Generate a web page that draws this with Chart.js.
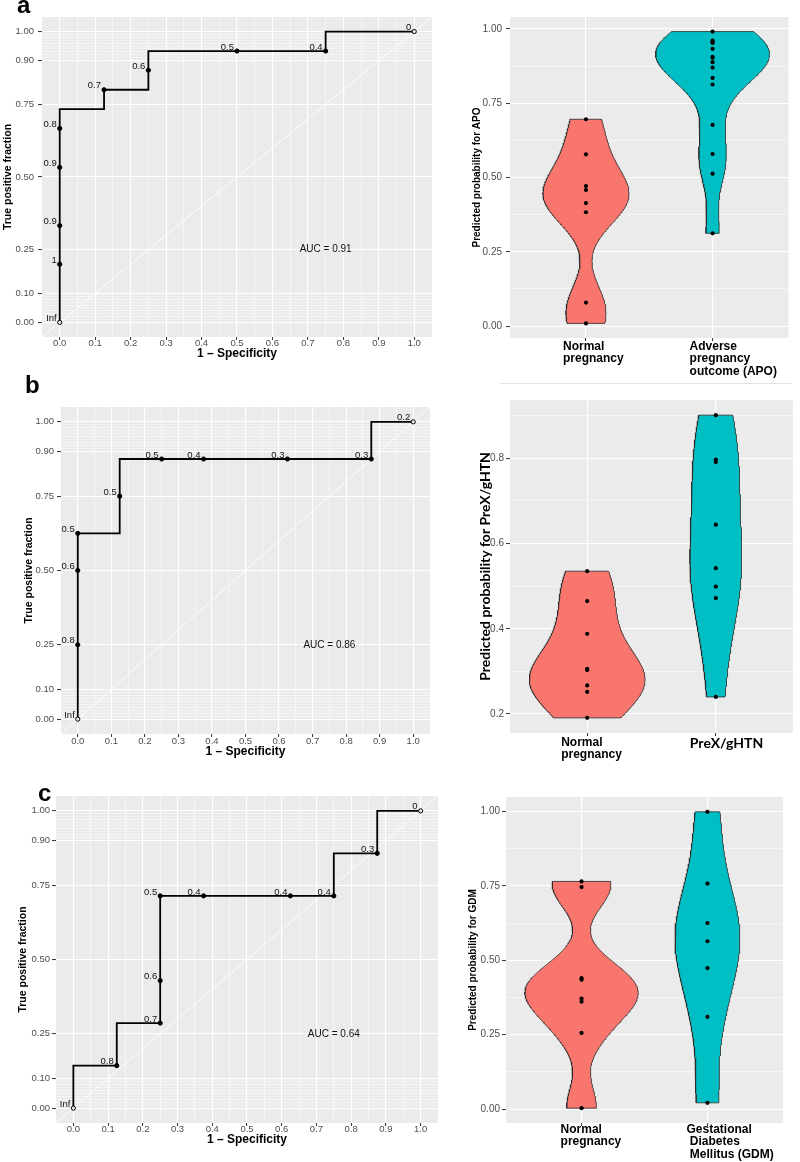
<!DOCTYPE html>
<html>
<head>
<meta charset="utf-8">
<script src="https://cdn.jsdelivr.net/npm/chart.js@4.4.1/dist/chart.umd.min.js"></script>
<style>
  body { margin: 0; background: #fff; }
  #fig { position: relative; width: 800px; height: 1162px; overflow: hidden; background: #fff;
         font-family: 'Liberation Sans', Arial, Helvetica, sans-serif; }
  #fig canvas { position: absolute; }
  .plab { position: absolute; font-weight: bold; font-size: 24px; line-height: 24px; color: #000; }
  .sep { position: absolute; height: 1px; background: #e2e2e2; }
</style>
</head>
<body>
<div id="fig"></div>
<script>
// ===================== DATA =====================
// ROC curves: corners of the empirical curve (1 - specificity, true positive fraction)
const rocA_fpr = [0, 0, 0.125, 0.125, 0.25, 0.25, 0.75, 0.75, 1];
const rocA_tpr = [0, 0.733, 0.733, 0.8, 0.8, 0.933, 0.933, 1, 1];
const cutA_fpr = [0, 0, 0, 0, 0, 0.125, 0.25, 0.5, 0.75, 1];
const cutA_tpr = [0, 0.2, 0.333, 0.533, 0.667, 0.8, 0.867, 0.933, 0.933, 1];
const cutA_lab = ['Inf', '1', '0.9', '0.9', '0.8', '0.7', '0.6', '0.5', '0.4', '0'];
const aucA = 'AUC = 0.91';

const rocB_fpr = [0, 0, 0.125, 0.125, 0.875, 0.875, 1];
const rocB_tpr = [0, 0.625, 0.625, 0.875, 0.875, 1, 1];
const cutB_fpr = [0, 0, 0, 0, 0.125, 0.25, 0.375, 0.625, 0.875, 1];
const cutB_tpr = [0, 0.25, 0.5, 0.625, 0.75, 0.875, 0.875, 0.875, 0.875, 1];
const cutB_lab = ['Inf', '0.8', '0.6', '0.5', '0.5', '0.5', '0.4', '0.3', '0.3', '0.2'];
const aucB = 'AUC = 0.86';

const rocC_fpr = [0, 0, 0.125, 0.125, 0.25, 0.25, 0.75, 0.75, 0.875, 0.875, 1];
const rocC_tpr = [0, 0.143, 0.143, 0.286, 0.286, 0.714, 0.714, 0.857, 0.857, 1, 1];
const cutC_fpr = [0, 0.125, 0.25, 0.25, 0.25, 0.375, 0.625, 0.75, 0.875, 1];
const cutC_tpr = [0, 0.143, 0.286, 0.429, 0.714, 0.714, 0.714, 0.714, 0.857, 1];
const cutC_lab = ['Inf', '0.8', '0.7', '0.6', '0.5', '0.4', '0.4', '0.4', '0.3', '0'];
const aucC = 'AUC = 0.64';

const rocXTicks = [0, 0.1, 0.2, 0.3, 0.4, 0.5, 0.6, 0.7, 0.8, 0.9, 1.0];
const rocYTicks = [0, 0.1, 0.25, 0.5, 0.75, 0.9, 1];

// Violin plots: predicted probabilities per subject
const vioA_normal = [0.696, 0.578, 0.471, 0.458, 0.414, 0.383, 0.079, 0.009];
const vioA_apo    = [0.991, 0.961, 0.957, 0.953, 0.933, 0.906, 0.903, 0.888, 0.870, 0.835, 0.813, 0.677, 0.579, 0.513, 0.312];
const vioB_normal = [0.535, 0.465, 0.388, 0.306, 0.303, 0.267, 0.252, 0.191];
const vioB_prex   = [0.901, 0.797, 0.791, 0.644, 0.542, 0.499, 0.472, 0.240];
const vioC_normal = [0.765, 0.746, 0.440, 0.435, 0.371, 0.361, 0.256, 0.003];
const vioC_gdm    = [0.999, 0.758, 0.625, 0.564, 0.474, 0.310, 0.021];

const catA = [['Normal', 'pregnancy'], ['Adverse', 'pregnancy', 'outcome (APO)']];
const catB = [['Normal', 'pregnancy'], ['PreX/gHTN']];
const catC = [['Normal', 'pregnancy'], ['Gestational', ' Diabetes', ' Mellitus (GDM)']];

const vioATicks = [0, 0.25, 0.5, 0.75, 1];
const vioBTicks = [0.2, 0.4, 0.6, 0.8];
const vioCTicks = [0, 0.25, 0.5, 0.75, 1];

// ===================== RENDERING =====================
const FONT = "'Liberation Sans', Arial, Helvetica, sans-serif";
const PANEL = '#EBEBEB';
const TICKC = '#4D4D4D';
const RED = '#F8766D', TEAL = '#00BFC4';
const fig = document.getElementById('fig');

function addCanvas(L, T, W, H) {
  const cv = document.createElement('canvas');
  cv.width = W; cv.height = H;
  cv.style.left = L + 'px'; cv.style.top = T + 'px';
  cv.style.width = W + 'px'; cv.style.height = H + 'px';
  fig.appendChild(cv);
  return cv;
}
function addDiv(cls, text, style) {
  const d = document.createElement('div');
  d.className = cls; d.textContent = text;
  Object.assign(d.style, style);
  fig.appendChild(d);
}
const near = (arr, v) => arr.some(m => Math.abs(m - v) < 1e-9);

const bgPlugin = {
  id: 'panelBg',
  beforeDraw(chart) {
    const { ctx, chartArea: a } = chart;
    ctx.save();
    ctx.fillStyle = PANEL;
    ctx.fillRect(a.left, a.top, a.right - a.left, a.bottom - a.top);
    ctx.restore();
  }
};

const rocLabelPlugin = {
  id: 'rocLabels',
  afterDatasetsDraw(chart, args, o) {
    const { ctx, scales: { x, y } } = chart;
    ctx.save();
    ctx.fillStyle = '#111';
    ctx.font = '9.5px ' + FONT;
    ctx.textAlign = 'right';
    ctx.textBaseline = 'middle';
    o.f.forEach((f, i) => {
      ctx.fillText(o.l[i], x.getPixelForValue(f) - 3, y.getPixelForValue(o.t[i]) - 4);
    });
    ctx.font = '10px ' + FONT;
    ctx.textAlign = 'center';
    ctx.fillText(o.auc, x.getPixelForValue(0.75), y.getPixelForValue(0.25));
    ctx.restore();
  }
};

function rocChart(c) {
  const g = c.g;
  const tickFs = 9.5, xtFs = 12, ytFs = 10.5;
  const L = 0, T = g.t - 14, R = g.r + 4;
  const B = Math.ceil(c.xTitleY + 0.6 * xtFs + 1);
  const cv = addCanvas(L, T, R - L, B - T);
  const yMinor = [];
  for (let i = 1; i < 10; i++) yMinor.push(i / 100, 0.9 + i / 100);
  const xMinor = [];
  for (let i = 0; i < rocXTicks.length - 1; i++) xMinor.push((rocXTicks[i] + rocXTicks[i + 1]) / 2);
  const n = c.cutF.length;
  new Chart(cv, {
    type: 'line',
    data: {
      datasets: [
        { data: c.cutF.map((f, i) => ({ x: f, y: c.cutT[i] })), showLine: false,
          pointRadius: 2.1, pointBorderWidth: 1, pointBorderColor: '#000',
          pointBackgroundColor: c.cutF.map((f, i) => (i === 0 || i === n - 1) ? PANEL : '#000'), order: 1 },
        { data: c.fpr.map((f, i) => ({ x: f, y: c.tpr[i] })), borderColor: '#000', borderWidth: 1.8,
          pointRadius: 0, fill: false, order: 2 },
        { data: [{ x: -0.05, y: -0.05 }, { x: 1.05, y: 1.05 }], borderColor: 'rgba(255,255,255,0.95)',
          borderWidth: 0.9, pointRadius: 0, fill: false, order: 3 }
      ]
    },
    options: {
      responsive: false, animation: false, devicePixelRatio: 1, events: [],
      layout: { padding: { left: 0, top: g.t - T, right: R - g.r, bottom: 0 } },
      plugins: {
        legend: { display: false }, tooltip: { enabled: false },
        rocLabels: { f: c.cutF, t: c.cutT, l: c.cutL, auc: c.auc }
      },
      scales: {
        x: {
          type: 'linear', min: -0.05, max: 1.05,
          afterBuildTicks: ax => { ax.ticks = [...rocXTicks, ...xMinor].map(v => ({ value: v })); },
          afterFit: ax => { ax.height = B - g.b; },
          border: { display: false },
          grid: {
            color: '#fff',
            lineWidth: ctx => (ctx.tick && near(rocXTicks, ctx.tick.value)) ? 1.1 : 0.5,
            tickLength: 3, tickWidth: 1,
            tickColor: ctx => (ctx.tick && near(rocXTicks, ctx.tick.value)) ? '#333' : 'rgba(0,0,0,0)'
          },
          ticks: {
            autoSkip: false, maxRotation: 0, minRotation: 0, color: TICKC,
            padding: c.xTickY - g.b - 3 - tickFs / 2,
            font: { family: FONT, size: tickFs, lineHeight: 1 },
            callback: v => near(rocXTicks, v) ? v.toFixed(1) : ''
          },
          title: { display: true, text: '1 – Specificity', color: '#000',
            font: { family: FONT, size: xtFs, weight: 'bold', lineHeight: 1.2 },
            padding: { top: 0, bottom: B - c.xTitleY - 0.6 * xtFs } }
        },
        y: {
          type: 'linear', min: -0.05, max: 1.05,
          afterBuildTicks: ax => { ax.ticks = [...rocYTicks, ...yMinor].map(v => ({ value: v })); },
          afterFit: ax => { ax.width = g.l - L; },
          border: { display: false },
          grid: {
            color: '#fff',
            lineWidth: ctx => (ctx.tick && near(rocYTicks, ctx.tick.value)) ? 1.1 : 0.5,
            tickLength: 4, tickWidth: 1,
            tickColor: ctx => (ctx.tick && near(rocYTicks, ctx.tick.value)) ? '#333' : 'rgba(0,0,0,0)'
          },
          ticks: {
            autoSkip: false, color: TICKC,
            padding: g.l - 4 - c.yTickRight,
            font: { family: FONT, size: tickFs, lineHeight: 1 },
            callback: v => near(rocYTicks, v) ? v.toFixed(2) : ''
          },
          title: { display: true, text: 'True positive fraction', color: '#000',
            font: { family: FONT, size: ytFs, weight: 'bold', lineHeight: 1.2 },
            padding: { top: c.yTitleX - L - 0.6 * ytFs, bottom: 0 } }
        }
      }
    },
    plugins: [bgPlugin, rocLabelPlugin]
  });
}

// kernel density helpers (ggplot2 geom_violin defaults: gaussian kernel, bw.nrd0, trim, scale = "area")
function q7(s, p) { const h = (s.length - 1) * p, lo = Math.floor(h); return s[lo] + (h - lo) * (s[Math.min(lo + 1, s.length - 1)] - s[lo]); }
function bwNrd0(v) {
  const n = v.length, m = v.reduce((a, b) => a + b, 0) / n;
  const sd = Math.sqrt(v.reduce((a, b) => a + (b - m) * (b - m), 0) / (n - 1));
  const s = [...v].sort((a, b) => a - b);
  let lo = Math.min(sd, (q7(s, 0.75) - q7(s, 0.25)) / 1.34);
  if (!(lo > 0)) lo = sd || Math.abs(s[0]) || 1;
  return 0.9 * lo * Math.pow(n, -0.2);
}
function kde(v, bw, y) {
  let s = 0;
  for (const x of v) { const z = (y - x) / bw; s += Math.exp(-0.5 * z * z); }
  return s / (v.length * bw * Math.sqrt(2 * Math.PI));
}

function violinChart(c) {
  const g = c.g, L = 440, T = c.T, R = 800, B = c.B;
  const cv = addCanvas(L, T, R - L, B - T);
  const all = c.groups.flatMap(gr => gr.vals);
  const lo = Math.min(...all), hi = Math.max(...all), ex = 0.05 * (hi - lo);
  const yMin = lo - ex, yMax = hi + ex;
  const dens = c.groups.map(gr => {
    const bw = bwNrd0(gr.vals), a = Math.min(...gr.vals), b = Math.max(...gr.vals);
    const ys = [];
    for (let i = 0; i <= 240; i++) ys.push(a + (b - a) * i / 240);
    return { ys, d: ys.map(y => kde(gr.vals, bw, y)) };
  });
  const maxD = Math.max(...dens.flatMap(o => o.d));
  const datasets = [];
  c.groups.forEach((gr, gi) => {
    datasets.push({ data: gr.vals.map(v => ({ x: gi + 1, y: v })), showLine: false, pointRadius: 2.1,
      pointBackgroundColor: '#000', pointBorderWidth: 0, order: 1 });
  });
  c.groups.forEach((gr, gi) => {
    const cx = gi + 1, { ys, d } = dens[gi];
    const right = ys.map((y, i) => ({ x: cx + 0.45 * d[i] / maxD, y }));
    const left = ys.map((y, i) => ({ x: cx - 0.45 * d[i] / maxD, y })).reverse();
    datasets.push({ data: [...right, ...left, right[0]], showLine: true, fill: 'shape',
      backgroundColor: gr.color, borderColor: '#2a2a2a', borderWidth: 0.8, pointRadius: 0, order: 2 });
  });
  const step = c.yTicks[1] - c.yTicks[0];
  const yMinor = [];
  for (let v = c.yTicks[0] - step / 2; v <= yMax + 1e-9; v += step) if (v >= yMin) yMinor.push(v);
  const tf = c.yTitleFont;
  new Chart(cv, {
    type: 'line',
    data: { datasets },
    options: {
      responsive: false, animation: false, devicePixelRatio: 1, events: [],
      layout: { padding: { left: 0, top: g.t - T, right: R - g.r, bottom: 0 } },
      plugins: { legend: { display: false }, tooltip: { enabled: false } },
      scales: {
        x: {
          type: 'linear', min: 0.4, max: 2.6,
          afterBuildTicks: ax => { ax.ticks = [1, 2].map(v => ({ value: v })); },
          afterFit: ax => { ax.height = B - g.b; },
          border: { display: false },
          grid: { color: '#fff', lineWidth: 1.1, tickLength: 3, tickWidth: 1, tickColor: '#333' },
          ticks: {
            autoSkip: false, maxRotation: 0, minRotation: 0, align: 'start', labelOffset: c.labelOffset,
            color: '#000', padding: c.xPad,
            font: ctx => c.catFonts[ctx.index] || c.catFonts[0],
            callback: v => c.cats[Math.round(v) - 1]
          }
        },
        y: {
          type: 'linear', min: yMin, max: yMax,
          afterBuildTicks: ax => { ax.ticks = [...c.yTicks, ...yMinor].map(v => ({ value: v })); },
          afterFit: ax => { ax.width = g.l - L; },
          border: { display: false },
          grid: {
            color: '#fff',
            lineWidth: ctx => (ctx.tick && near(c.yTicks, ctx.tick.value)) ? 1.1 : 0.5,
            tickLength: 4, tickWidth: 1,
            tickColor: ctx => (ctx.tick && near(c.yTicks, ctx.tick.value)) ? '#333' : 'rgba(0,0,0,0)'
          },
          ticks: {
            autoSkip: false, color: TICKC, padding: g.l - 4 - c.yTickRight,
            font: { family: FONT, size: 10, lineHeight: 1 },
            callback: v => near(c.yTicks, v) ? v.toFixed(c.yDigits) : ''
          },
          title: { display: true, text: c.yTitle, color: '#000',
            font: { family: tf.family, size: tf.size, weight: 'bold', lineHeight: 1.2 },
            padding: { top: c.yTitleX - L - 0.6 * tf.size, bottom: 0 } }
        }
      }
    },
    plugins: [bgPlugin]
  });
}

// ---- panel a ----
rocChart({ g: { l: 42, t: 17, r: 433, b: 337 }, yTitleX: 8, yTickRight: 34, xTickY: 343.5, xTitleY: 354,
  fpr: rocA_fpr, tpr: rocA_tpr, cutF: cutA_fpr, cutT: cutA_tpr, cutL: cutA_lab, auc: aucA });
const catFont12 = { family: FONT, size: 12, weight: 'bold', lineHeight: 1.05 };
violinChart({ g: { l: 510, t: 17, r: 797, b: 338 }, T: 0, B: 380, yTitleX: 477, yTickRight: 502,
  yTitle: 'Predicted probability for APO', yTitleFont: { family: FONT, size: 10 },
  yTicks: vioATicks, yDigits: 2, cats: catA, catFonts: [catFont12, catFont12], labelOffset: -23, xPad: -1,
  groups: [{ vals: vioA_normal, color: RED }, { vals: vioA_apo, color: TEAL }] });

// ---- panel b ----
rocChart({ g: { l: 61, t: 407, r: 431, b: 734 }, yTitleX: 29, yTickRight: 54, xTickY: 741, xTitleY: 752,
  fpr: rocB_fpr, tpr: rocB_tpr, cutF: cutB_fpr, cutT: cutB_tpr, cutL: cutB_lab, auc: aucB });
violinChart({ g: { l: 510, t: 400, r: 793, b: 733 }, T: 390, B: 770, yTitleX: 485, yTickRight: 504,
  yTitle: 'Predicted probability for PreX/gHTN', yTitleFont: { family: "Lato, 'Open Sans', sans-serif", size: 14 },
  yTicks: vioBTicks, yDigits: 1, cats: catB,
  catFonts: [catFont12, { family: "Lato, 'Open Sans', sans-serif", size: 14, weight: 'bold', lineHeight: 1.05 }],
  labelOffset: -26, xPad: 0,
  groups: [{ vals: vioB_normal, color: RED }, { vals: vioB_prex, color: TEAL }] });

// ---- panel c ----
rocChart({ g: { l: 56, t: 796, r: 439, b: 1123 }, yTitleX: 23, yTickRight: 50, xTickY: 1129, xTitleY: 1139.5,
  fpr: rocC_fpr, tpr: rocC_tpr, cutF: cutC_fpr, cutT: cutC_tpr, cutL: cutC_lab, auc: aucC });
violinChart({ g: { l: 506, t: 797, r: 783, b: 1123 }, T: 785, B: 1162, yTitleX: 473, yTickRight: 500,
  yTitle: 'Predicted probability for GDM', yTitleFont: { family: FONT, size: 10 },
  yTicks: vioCTicks, yDigits: 2, cats: catC, catFonts: [catFont12, catFont12], labelOffset: -21, xPad: -3,
  groups: [{ vals: vioC_normal, color: RED }, { vals: vioC_gdm, color: TEAL }] });

// panel letters and separator
addDiv('plab', 'a', { left: '17px', top: '-7px' });
addDiv('plab', 'b', { left: '25px', top: '373px' });
addDiv('plab', 'c', { left: '38px', top: '781px' });
addDiv('sep', '', { left: '500px', top: '383px', width: '292px' });
</script>
</body>
</html>
